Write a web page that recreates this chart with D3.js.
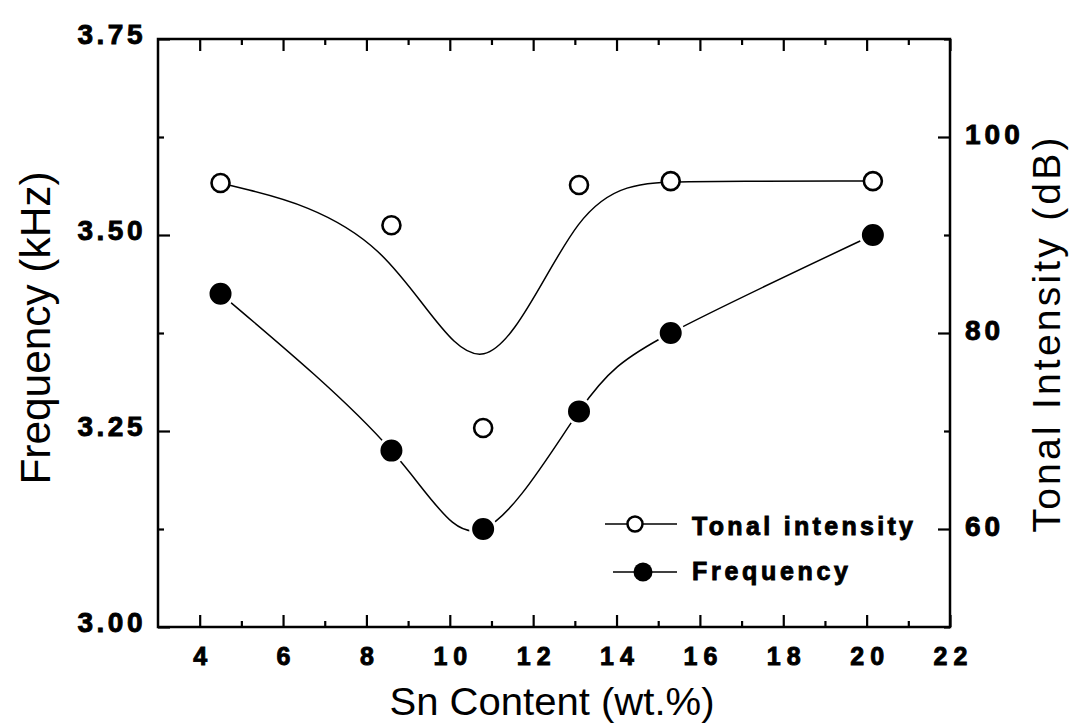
<!DOCTYPE html>
<html>
<head>
<meta charset="utf-8">
<script src="https://cdn.jsdelivr.net/npm/d3@7"></script>
<style>
  html, body { margin: 0; padding: 0; background: #fff; }
  svg { display: block; }
  text { font-family: "Liberation Sans", Arial, sans-serif; fill: #000; }
  .heavy { stroke: #000; stroke-width: 0.9px; }
</style>
</head>
<body>
<svg id="chart" width="1070" height="727"></svg>
<script>
// ---- data ----
const snContent      = [4.5, 8.6, 10.8, 13.1, 15.3, 20.15];
const frequency      = [3.425, 3.225, 3.125, 3.275, 3.375, 3.50];
const tonalIntensity = [95.3, 91.0, 70.3, 95.1, 95.5, 95.5];

const xMajorTicks = [4, 6, 8, 10, 12, 14, 16, 18, 20, 22];
const xMinorTicks = [5, 7, 9, 11, 13, 15, 17, 19, 21];
const leftMajorTicks = [3.00, 3.25, 3.50, 3.75];
const leftMinorTicks = [3.125, 3.375, 3.625];
const rightMajorTicks = [60, 80, 100];
const rightMinorTicks = [50, 70, 90, 110];

const xTitle = "Sn Content (wt.%)";
const leftTitle = "Frequency (kHz)";
const rightTitle = "Tonal Intensity (dB)";
const legendLabels = ["Tonal intensity", "Frequency"];

// ---- layout ----
const L = 158, R = 950, T = 39, B = 627;
const svg = d3.select("#chart");

const x = d3.scaleLinear().domain([3, 22]).range([L, R]);
const yL = d3.scaleLinear().domain([3.0, 3.75]).range([B, T]);
const yR = d3.scaleLinear().domain([50, 110]).range([B, T]);

function styleAxis(g) {
  g.select(".domain").remove();
  g.selectAll(".tick line").attr("stroke", "#000").attr("stroke-width", 2.2);
}

// bottom axis
const gb = svg.append("g").attr("transform", `translate(0,${B})`)
  .call(d3.axisBottom(x).tickValues(xMajorTicks).tickSize(-12).tickPadding(0).tickFormat(d3.format("d")));
styleAxis(gb);
gb.selectAll(".tick text")
  .attr("class", "heavy")
  .attr("y", 38).attr("dy", null)
  .attr("font-size", 25).attr("font-weight", "bold")
  .attr("letter-spacing", 6).attr("dx", 3);
svg.append("g").attr("transform", `translate(0,${B})`)
  .call(d3.axisBottom(x).tickValues(xMinorTicks).tickSize(-6).tickFormat(""))
  .call(styleAxis);

// top axis
svg.append("g").attr("transform", `translate(0,${T})`)
  .call(d3.axisTop(x).tickValues(xMajorTicks).tickSize(-12).tickFormat(""))
  .call(styleAxis);
svg.append("g").attr("transform", `translate(0,${T})`)
  .call(d3.axisTop(x).tickValues(xMinorTicks).tickSize(-6).tickFormat(""))
  .call(styleAxis);

// left axis
const gl = svg.append("g").attr("transform", `translate(${L},0)`)
  .call(d3.axisLeft(yL).tickValues(leftMajorTicks).tickSize(-12).tickPadding(12).tickFormat(d3.format(".2f")));
styleAxis(gl);
gl.selectAll(".tick text")
  .attr("class", "heavy")
  .attr("dy", 4)
  .attr("font-size", 28).attr("font-weight", "bold")
  .attr("letter-spacing", 3.5);
svg.append("g").attr("transform", `translate(${L},0)`)
  .call(d3.axisLeft(yL).tickValues(leftMinorTicks).tickSize(-6).tickFormat(""))
  .call(styleAxis);

// right axis
const gr = svg.append("g").attr("transform", `translate(${R},0)`)
  .call(d3.axisRight(yR).tickValues(rightMajorTicks).tickSize(-12).tickPadding(15).tickFormat(d3.format("d")));
styleAxis(gr);
gr.selectAll(".tick text")
  .attr("class", "heavy")
  .attr("dy", 6)
  .attr("font-size", 28).attr("font-weight", "bold")
  .attr("letter-spacing", 4);
svg.append("g").attr("transform", `translate(${R},0)`)
  .call(d3.axisRight(yR).tickValues(rightMinorTicks).tickSize(-6).tickFormat(""))
  .call(styleAxis);

// frame
svg.append("rect").attr("x", L).attr("y", T).attr("width", R - L).attr("height", B - T)
  .attr("fill", "none").attr("stroke", "#000").attr("stroke-width", 2.5);

// ---- curves ----
const freqPts = snContent.map((s, i) => [x(s), yL(frequency[i])]);
const tonalPts = snContent.map((s, i) => [x(s), yR(tonalIntensity[i])]);

svg.append("path")
  .attr("d", d3.line().curve(d3.curveBasis)(tonalPts))
  .attr("fill", "none").attr("stroke", "#000").attr("stroke-width", 1.5);

svg.append("path")
  .attr("d", d3.line().curve(d3.curveNatural)(freqPts))
  .attr("fill", "none").attr("stroke", "#000").attr("stroke-width", 1.5);

// markers
svg.append("g").selectAll("circle").data(tonalPts).join("circle")
  .attr("cx", d => d[0]).attr("cy", d => d[1]).attr("r", 9)
  .attr("fill", "#fff").attr("stroke", "#000").attr("stroke-width", 2.6);

svg.append("g").selectAll("circle").data(freqPts).join("circle")
  .attr("cx", d => d[0]).attr("cy", d => d[1]).attr("r", 12.5)
  .attr("fill", "#000").attr("stroke", "#fff").attr("stroke-width", 3);

// ---- legend ----
const lg = svg.append("g");
// tonal row
lg.append("line").attr("x1", 605).attr("x2", 677).attr("y1", 524).attr("y2", 524)
  .attr("stroke", "#000").attr("stroke-width", 1.5);
lg.append("circle").attr("cx", 635).attr("cy", 524).attr("r", 7.5)
  .attr("fill", "#fff").attr("stroke", "#000").attr("stroke-width", 2.5);
lg.append("text").attr("class", "heavy").attr("x", 692).attr("y", 535)
  .attr("font-size", 25).attr("font-weight", "bold")
  .attr("textLength", 221).attr("lengthAdjust", "spacing")
  .text(legendLabels[0]);
// frequency row
lg.append("line").attr("x1", 613).attr("x2", 677).attr("y1", 572).attr("y2", 572)
  .attr("stroke", "#000").attr("stroke-width", 1.5);
lg.append("circle").attr("cx", 643).attr("cy", 572).attr("r", 9.5)
  .attr("fill", "#000");
lg.append("text").attr("class", "heavy").attr("x", 692).attr("y", 580)
  .attr("font-size", 25).attr("font-weight", "bold")
  .attr("textLength", 156).attr("lengthAdjust", "spacing")
  .text(legendLabels[1]);

// ---- titles ----
svg.append("text")
  .attr("x", 552).attr("y", 715).attr("text-anchor", "middle")
  .attr("font-size", 38).attr("textLength", 325).attr("lengthAdjust", "spacingAndGlyphs")
  .text(xTitle);

svg.append("text")
  .attr("transform", "translate(50,328) rotate(-90)")
  .attr("text-anchor", "middle")
  .attr("font-size", 42).attr("textLength", 313).attr("lengthAdjust", "spacingAndGlyphs")
  .text(leftTitle);

svg.append("text")
  .attr("transform", "translate(1060,335) rotate(-90)")
  .attr("text-anchor", "middle")
  .attr("font-size", 39).attr("textLength", 395).attr("lengthAdjust", "spacing")
  .text(rightTitle);
</script>
</body>
</html>
